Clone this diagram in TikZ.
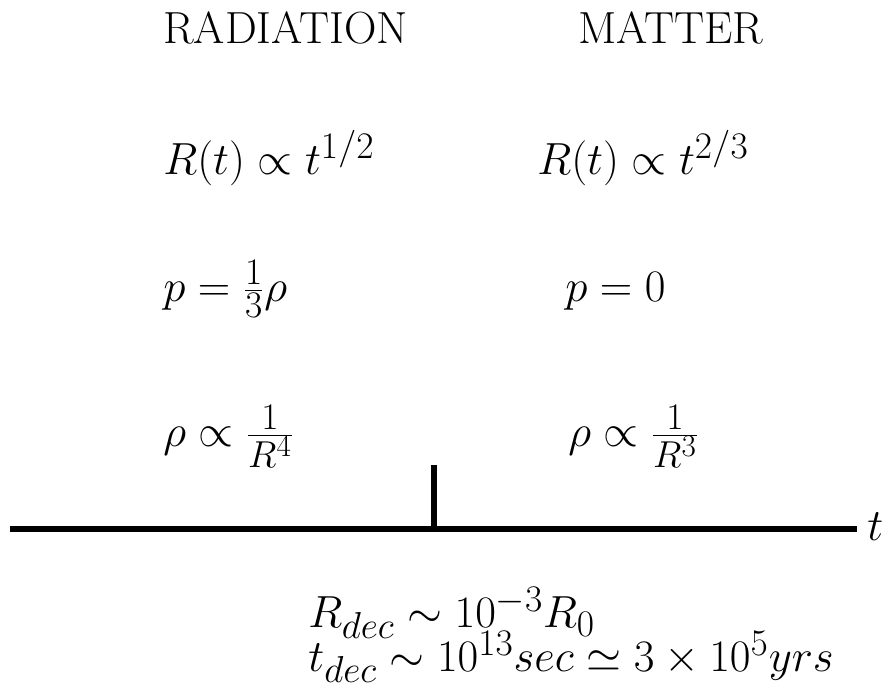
\documentclass[tikz,border=0pt]{standalone}
\tikzset{lbl/.style={anchor=base west, inner sep=0pt, font=\Huge},
  axisline/.style={line width=3pt}}
\begin{document}
\begin{tikzpicture}[x=0.553pt,y=-0.553pt]
\useasboundingbox (0,0) rectangle (882,694);
\node[lbl] (rad) at (163,44) {RADIATION};
\node[lbl] (mat) at (578,44) {MATTER};
\node[lbl] (r1) at (163,175) {$R(t)\propto t^{1/2}$};
\node[lbl] (r2) at (537,175) {$R(t)\propto t^{2/3}$};
\node[lbl] (p1) at (163,302) {$p=\frac{1}{3}\rho$};
\node[lbl] (p2) at (565,302) {$p=0$};
\node[lbl] (d1) at (163,447) {$\rho\propto\frac{1}{R^4}$};
\node[lbl] (d2) at (568,447) {$\rho\propto\frac{1}{R^3}$};
\coordinate (a0) at (10,529);
\coordinate (a1) at (857,529);
\node[lbl] (t) at (867,541) {$t$};
\coordinate (k0) at (434,465);
\coordinate (k1) at (434,529);
\draw[axisline] (a0) -- (a1);
\draw[axisline] (k0) -- (k1);
\node[lbl] (rd) at (308,628) {$R_{dec}\sim10^{-3}R_0$};
\node[lbl] (td) at (308,672) {$t_{dec}\sim10^{13}sec\simeq3\times10^5yrs$};
\end{tikzpicture}
\end{document}
